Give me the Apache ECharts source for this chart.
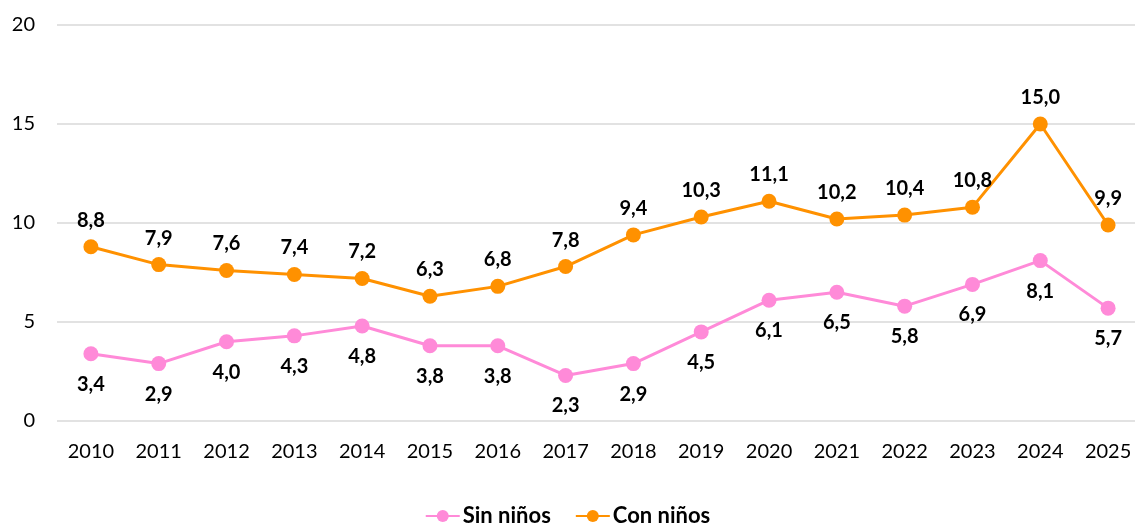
<!DOCTYPE html>
<html><head><meta charset="utf-8">
<script src="https://cdn.jsdelivr.net/npm/echarts@6/dist/echarts.min.js"></script>
<style>html,body{margin:0;padding:0;background:#fff}#c{width:1135px;height:525px}</style>
</head><body><div id="c"></div>
<script>
const categories = ['2010','2011','2012','2013','2014','2015','2016','2017','2018','2019','2020','2021','2022','2023','2024','2025'];
const sinNinos = [3.4,2.9,4.0,4.3,4.8,3.8,3.8,2.3,2.9,4.5,6.1,6.5,5.8,6.9,8.1,5.7];
const conNinos = [8.8,7.9,7.6,7.4,7.2,6.3,6.8,7.8,9.4,10.3,11.1,10.2,10.4,10.8,15.0,9.9];
const yTicks = [0,5,10,15,20];
const FONT = 'Lato, "Open Sans", sans-serif';
const fmt = p => p.value.toFixed(1).replace('.', ',');
const chart = echarts.init(document.getElementById('c'));
chart.setOption({
  animation: false,
  textStyle: {fontFamily: FONT},
  grid: {left: 57, width: 1085, top: 25, height: 396, containLabel: false, outerBoundsMode: 'none'},
  legend: {
    top: 500, left: 'center', itemWidth: 34, itemHeight: 15, itemGap: 24,
    textStyle: {fontFamily: FONT, fontSize: 22, fontWeight: 'bold', color: '#000', padding: [0,0,0,-2]},
    data: ['Sin niños','Con niños']
  },
  xAxis: {
    type: 'category', data: categories, boundaryGap: true,
    axisLine: {show: false}, axisTick: {show: false},
    axisLabel: {fontSize: 20, color: '#000', margin: 21, fontFamily: FONT}
  },
  yAxis: {
    type: 'value', min: yTicks[0], max: yTicks[yTicks.length-1], interval: 5,
    axisLine: {show: false}, axisTick: {show: false},
    splitLine: {lineStyle: {color: '#d9d9d9', width: 1.5}},
    axisLabel: {fontSize: 20, color: '#000', margin: 22, fontFamily: FONT}
  },
  series: [
    {
      name: 'Sin niños', type: 'line', data: sinNinos,
      symbol: 'circle', symbolSize: 15,
      itemStyle: {color: '#FF8AD8'}, lineStyle: {width: 3, color: '#FF8AD8'},
      label: {show: true, position: 'bottom', distance: 13, formatter: fmt,
        fontSize: 20, fontWeight: 'bold', color: '#000', fontFamily: FONT}
    },
    {
      name: 'Con niños', type: 'line', data: conNinos,
      symbol: 'circle', symbolSize: 15,
      itemStyle: {color: '#FF9100'}, lineStyle: {width: 3, color: '#FF9100'},
      label: {show: true, position: 'top', distance: 9, formatter: fmt,
        fontSize: 20, fontWeight: 'bold', color: '#000', fontFamily: FONT}
    }
  ]
});
</script></body></html>
